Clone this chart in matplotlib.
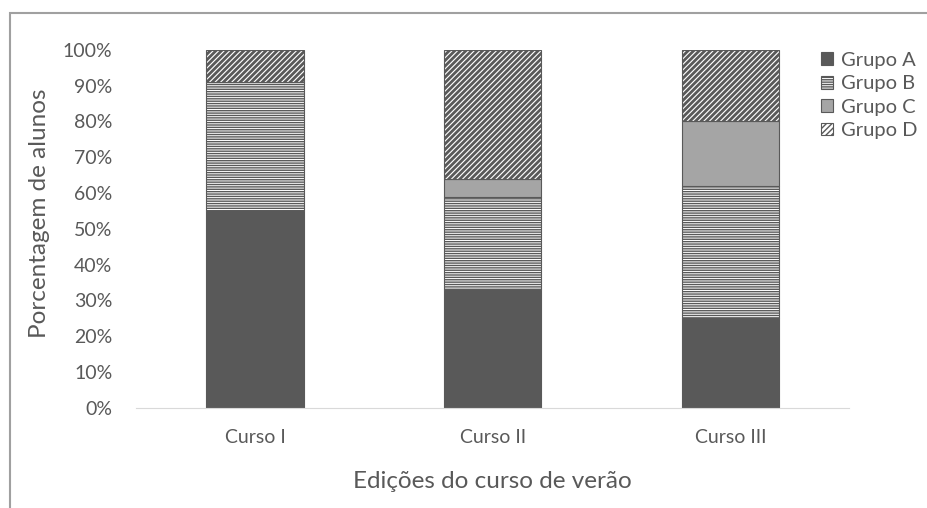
import numpy as np
import matplotlib
matplotlib.use('Agg')
import matplotlib.pyplot as plt
from matplotlib.patches import Rectangle

# Data (percent of students per group)
cursos = ['Curso I', 'Curso II', 'Curso III']
grupo_a = [55, 33, 25]
grupo_b = [36, 26, 37]
grupo_c = [0, 5, 18]
grupo_d = [9, 36, 20]
grupos = ['Grupo A', 'Grupo B', 'Grupo C', 'Grupo D']
yticks = [0, 10, 20, 30, 40, 50, 60, 70, 80, 90, 100]

plt.rcParams['font.family'] = ['Lato', 'DejaVu Sans']
txt = '#595959'

fig = plt.figure(figsize=(9.28, 5.08), dpi=100)
ax = fig.add_axes([0.1466, 0.197, 0.7684, 0.705])

x = np.arange(len(cursos))
w = 0.41
series = [grupo_a, grupo_b, grupo_c, grupo_d]
styles = [
    dict(color='#595959', hatch=None, hlw=1.0),
    dict(color='white', hatch='-------', hlw=1.0),
    dict(color='#a5a5a5', hatch=None, hlw=1.0),
    dict(color='white', hatch='//////', hlw=2.0),
]
bottom = np.zeros(len(cursos))
for vals, st, name in zip(series, styles, grupos):
    vals = np.array(vals, dtype=float)
    with plt.rc_context({'hatch.linewidth': st['hlw']}):
        ax.bar(x, vals, w, bottom=bottom, color=st['color'], hatch=st['hatch'],
               edgecolor='#595959', linewidth=0.8, label=name)
    bottom += vals

ax.set_xlim(-0.5, 2.5)
ax.set_ylim(0, 100)
ax.set_yticks(yticks)
ax.set_yticklabels([f'{v}%' for v in yticks])
ax.set_xticks(x)
ax.set_xticklabels(cursos)
ax.tick_params(length=0, labelsize=14, colors=txt)
ax.tick_params(axis='x', pad=15)
ax.tick_params(axis='y', pad=17)
for s in ['top', 'right', 'left']:
    ax.spines[s].set_visible(False)
ax.spines['bottom'].set_color('#d9d9d9')

fig.text(40 / 928, 1 - 213 / 508, 'Porcentagem de alunos', rotation=90,
         ha='center', va='center', fontsize=17.5, color=txt)
fig.text(492 / 928, 1 - 481 / 508, 'Edições do curso de verão',
         ha='center', va='center', fontsize=17.5, color=txt)

ax.legend(loc='upper left', bbox_to_anchor=(0.885, 0.898),
          bbox_transform=fig.transFigure, frameon=False, fontsize=14.5,
          labelcolor=txt, handlelength=0.6, handleheight=0.6,
          handletextpad=0.4, labelspacing=0.32, borderaxespad=0,
          borderpad=0)

# chart area border (only top and left edges fall inside the picture)
fig.patches.append(Rectangle((10 / 928, -0.2), 1.5, 0.974 + 0.2,
                             transform=fig.transFigure, fill=False,
                             edgecolor='#a0a0a0', linewidth=1.5))

fig.savefig('out.png', dpi=100)
